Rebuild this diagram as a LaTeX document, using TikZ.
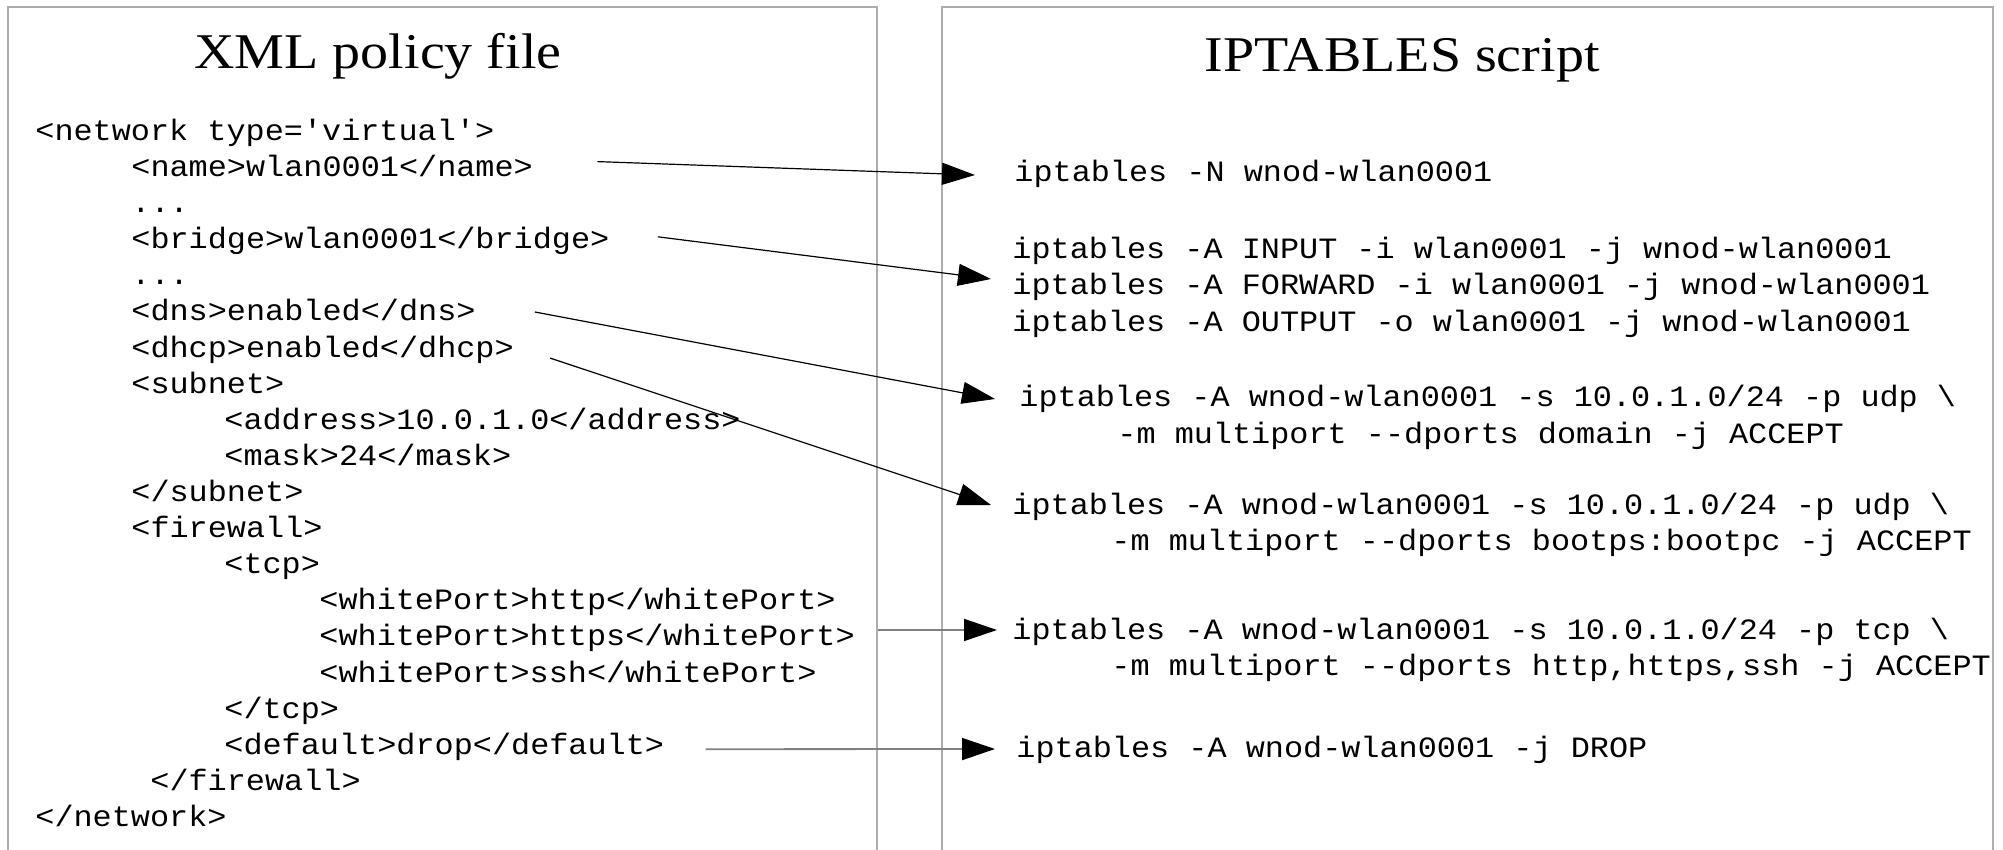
\documentclass[tikz,border=0pt]{standalone}
\usepackage{fontspec}
\setmainfont[FakeStretch=1.12]{Liberation Serif}
\setmonofont[FakeStretch=1.08]{Liberation Mono}
\usetikzlibrary{arrows.meta}

\begin{document}
\begin{tikzpicture}[x=0.5pt, y=-0.5pt,
    heading/.style={anchor=base, inner sep=0, font=\fontsize{25pt}{30pt}\selectfont},
    code/.style={anchor=base west, inner sep=0, font=\ttfamily\fontsize{14.75pt}{17pt}\selectfont},
    frame/.style={draw=black!32, line width=0.7pt},
    >={Triangle[length=16.5pt, width=11pt, color=black]},
    link/.style={->, line width=0.6pt},
    hlink/.style={->, draw=black!50, line width=0.9pt}]
    \useasboundingbox (0,0) rectangle (2003,850);
    % Draw the two panels, open at the bottom
    \draw[frame] (8,850) |- (877,7) -- (877,850);
    \draw[frame] (942,850) |- (1993,7) -- (1993,850);
    % Panel titles
    \node[heading] (xmltitle) at (378,69) {XML policy file};
    \node[heading] (iptitle) at (1402,72) {IPTABLES script};
    % The policy file, one node per line
    \node[code] (net) at (35,140.5) {<network type='virtual'>};
    \node[code] (name) at (131,176.6) {<name>wlan0001</name>};
    \node[code] (dotsa) at (131,212.7) {...};
    \node[code] (bridge) at (131,248.8) {<bridge>wlan0001</bridge>};
    \node[code] (dotsb) at (131,284.9) {...};
    \node[code] (dns) at (131,321.0) {<dns>enabled</dns>};
    \node[code] (dhcp) at (131,357.1) {<dhcp>enabled</dhcp>};
    \node[code] (subnet) at (131,393.2) {<subnet>};
    \node[code] (address) at (224,429.3) {<address>10.0.1.0</address>};
    \node[code] (mask) at (224,465.4) {<mask>24</mask>};
    \node[code] (subnetend) at (131,501.5) {</subnet>};
    \node[code] (firewall) at (131,537.6) {<firewall>};
    \node[code] (tcp) at (224,573.7) {<tcp>};
    \node[code] (http) at (319,609.8) {<whitePort>http</whitePort>};
    \node[code] (https) at (319,645.9) {<whitePort>https</whitePort>};
    \node[code] (ssh) at (319,682.0) {<whitePort>ssh</whitePort>};
    \node[code] (tcpend) at (224,718.1) {</tcp>};
    \node[code] (default) at (224,754.2) {<default>drop</default>};
    \node[code] (firewallend) at (150,790.3) {</firewall>};
    \node[code] (netend) at (35,826.4) {</network>};
    % The generated rules
    \node[code] (ipnew) at (1014,181.5) {iptables -N wnod-wlan0001};
    \node[code] (ipin) at (1012,259) {iptables -A INPUT -i wlan0001 -j wnod-wlan0001};
    \node[code] (ipfwd) at (1012,295) {iptables -A FORWARD -i wlan0001 -j wnod-wlan0001};
    \node[code] (ipout) at (1012,331) {iptables -A OUTPUT -o wlan0001 -j wnod-wlan0001};
    \node[code] (ipdns) at (1019,407) {iptables -A wnod-wlan0001 -s 10.0.1.0/24 -p udp \textbackslash};
    \node[code] (ipdnsb) at (1117,443) {-m multiport --dports domain -j ACCEPT};
    \node[code] (ipdhcp) at (1012,514) {iptables -A wnod-wlan0001 -s 10.0.1.0/24 -p udp \textbackslash};
    \node[code] (ipdhcpb) at (1111,550) {-m multiport --dports bootps:bootpc -j ACCEPT};
    \node[code] (iptcp) at (1012,639) {iptables -A wnod-wlan0001 -s 10.0.1.0/24 -p tcp \textbackslash};
    \node[code] (iptcpb) at (1111,675) {-m multiport --dports http,https,ssh -j ACCEPT};
    \node[code] (ipdrop) at (1016,757) {iptables -A wnod-wlan0001 -j DROP};
    % Map each policy entry to its rules
    \draw[link] ([shift={(64,-15)}]name.base east) -- ([shift={(-39,-6.5)}]ipnew.base west);
    \draw[link] ([shift={(48,-12)}]bridge.base east) -- ([shift={(-21,-16)}]ipfwd.base west);
    \draw[link] ([shift={(59,-9)}]dns.base east) -- ([shift={(-24,-8)}]ipdns.base west);
    \draw[link] ([shift={(36,1)}]dhcp.base east) -- ([shift={(-21,-9)}]ipdhcp.base west);
    \draw[hlink] ([shift={(23,-16)}]https.base east) -- ([shift={(-15,-9)}]iptcp.base west);
    \draw[hlink] ([shift={(41,-5)}]default.base east) -- ([shift={(-21,-8)}]ipdrop.base west);
\end{tikzpicture}
\end{document}
